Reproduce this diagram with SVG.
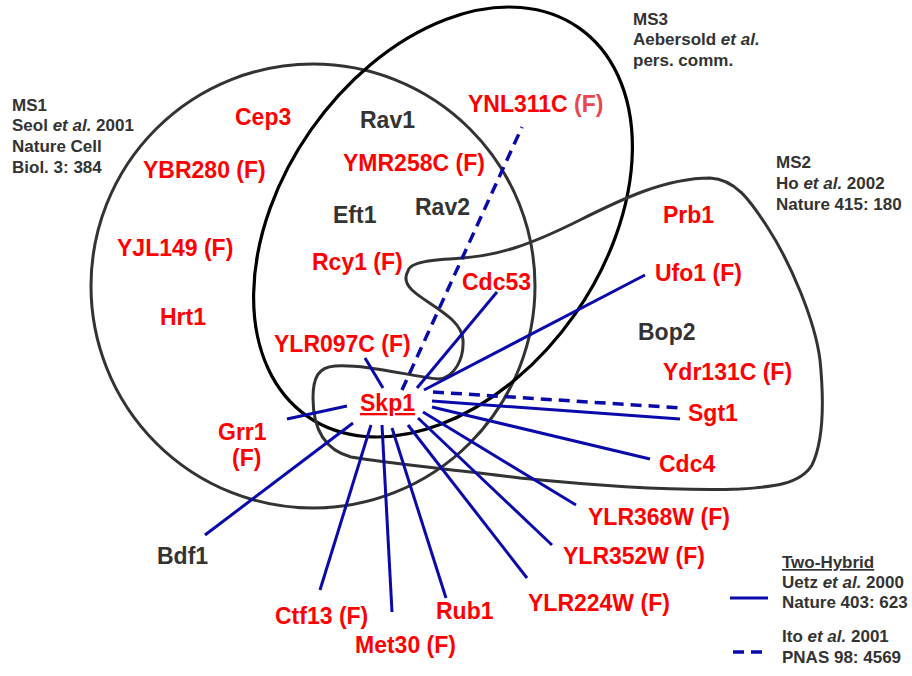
<svg xmlns="http://www.w3.org/2000/svg" width="912" height="676" viewBox="0 0 912 676">
<style>
.g{font-family:"Liberation Sans",Arial,sans-serif;font-weight:bold;font-size:23px;fill:#ff0000}
.k{font-family:"Liberation Sans",Arial,sans-serif;font-weight:bold;font-size:23px;fill:#333333}
.s{font-family:"Liberation Sans",Arial,sans-serif;font-weight:bold;font-size:17px;fill:#333333}
.it{font-style:italic}
.c{stroke:#0a0aaa;stroke-width:3;fill:none}
.d{stroke:#0a0aaa;stroke-width:3.5;fill:none;stroke-dasharray:11 7}
.set{fill:none;stroke:#333333;stroke-width:3}
</style>
<rect width="912" height="676" fill="#ffffff"/>
<g id="sets">
<circle id="MS1" class="set" cx="313" cy="286" r="222"/>
<ellipse id="MS3" cx="443" cy="222" rx="237" ry="161" transform="rotate(-55 443 222)" fill="none" stroke="#000000" stroke-width="3.2"/>
<path id="MS2" class="set" d="M408,271 C410,262 430,260 463,258 C500,255 530,245 580,220 C620,200 665,178 710,178 C735,179 750,200 768,228 C790,262 815,320 820,360 C824,400 824,440 812,465 C800,485 770,487 740,489 C660,492 560,482 520,478 C460,470 390,464 351,457 C325,450 313,430 313,398 C313,378 318,367 335,366 C365,364 410,376 438,379 C455,378 464,358 463,340 C462,318 428,305 412,290 C405,283 405,276 408,271 Z"/>
</g>
<g id="connectors">
<line class="c" x1="365" y1="358" x2="383" y2="388"/>
<line class="d" x1="402" y1="390" x2="522" y2="127"/>
<line class="c" x1="417" y1="388" x2="497" y2="292"/>
<line class="c" x1="424" y1="390" x2="645" y2="275"/>
<line class="d" x1="433" y1="392" x2="682" y2="408"/>
<line class="c" x1="432" y1="401" x2="680" y2="419"/>
<line class="c" x1="432" y1="407" x2="650" y2="459"/>
<line class="c" x1="423" y1="412" x2="576" y2="505"/>
<line class="c" x1="418" y1="418" x2="552" y2="545"/>
<line class="c" x1="408" y1="425" x2="527" y2="578"/>
<line class="c" x1="392" y1="428" x2="446" y2="598"/>
<line class="c" x1="382" y1="425" x2="392" y2="612"/>
<line class="c" x1="371" y1="425" x2="320" y2="590"/>
<line class="c" x1="353" y1="423" x2="205" y2="535"/>
<line class="c" x1="287" y1="419" x2="347" y2="406"/>
</g>
<g id="skp1"><text class="g" x="360" y="411" text-decoration="underline">Skp1</text></g>
<g id="cep3"><text class="g" x="235" y="125">Cep3</text></g>
<g id="rav1"><text class="k" x="360" y="128">Rav1</text></g>
<g id="ynl311c"><text class="g" x="468" y="112">YNL311C <tspan fill="#e8484e">(F)</tspan></text></g>
<g id="ybr280"><text class="g" x="143" y="178">YBR280 (F)</text></g>
<g id="ymr258c"><text class="g" x="343" y="171">YMR258C (F)</text></g>
<g id="eft1"><text class="k" x="333" y="223">Eft1</text></g>
<g id="rav2"><text class="k" x="415" y="215">Rav2</text></g>
<g id="yjl149"><text class="g" x="117" y="256">YJL149 (F)</text></g>
<g id="prb1"><text class="g" x="663" y="223">Prb1</text></g>
<g id="rcy1"><text class="g" x="312" y="270">Rcy1 (F)</text></g>
<g id="ufo1"><text class="g" x="655" y="281">Ufo1 (F)</text></g>
<g id="cdc53"><text class="g" x="462" y="290">Cdc53</text></g>
<g id="hrt1"><text class="g" x="160" y="325">Hrt1</text></g>
<g id="bop2"><text class="k" x="638" y="340">Bop2</text></g>
<g id="ylr097c"><text class="g" x="274" y="352">YLR097C (F)</text></g>
<g id="ydr131c"><text class="g" x="663" y="380">Ydr131C (F)</text></g>
<g id="sgt1"><text class="g" x="688" y="421">Sgt1</text></g>
<g id="grr1"><text class="g" x="218" y="440">Grr1</text><text class="g" x="232" y="466">(F)</text></g>
<g id="cdc4"><text class="g" x="659" y="472">Cdc4</text></g>
<g id="ylr368w"><text class="g" x="588" y="525">YLR368W (F)</text></g>
<g id="ylr352w"><text class="g" x="563" y="564">YLR352W (F)</text></g>
<g id="bdf1"><text class="k" x="157" y="564">Bdf1</text></g>
<g id="ylr224w"><text class="g" x="528" y="611">YLR224W (F)</text></g>
<g id="rub1"><text class="g" x="436" y="619">Rub1</text></g>
<g id="ctf13"><text class="g" x="275" y="624">Ctf13 (F)</text></g>
<g id="met30"><text class="g" x="355" y="653">Met30 (F)</text></g>
<g id="ms1-label">
<text class="s" x="12" y="111">MS1</text>
<text class="s" x="12" y="131">Seol <tspan class="it">et al.</tspan> 2001</text>
<text class="s" x="12" y="152">Nature Cell</text>
<text class="s" x="12" y="173">Biol. 3: 384</text>
</g>
<g id="ms3-label">
<text class="s" x="633" y="25">MS3</text>
<text class="s" x="633" y="45">Aebersold <tspan class="it">et al.</tspan></text>
<text class="s" x="633" y="66">pers. comm.</text>
</g>
<g id="ms2-label">
<text class="s" x="776" y="168">MS2</text>
<text class="s" x="776" y="189">Ho <tspan class="it">et al.</tspan> 2002</text>
<text class="s" x="776" y="210">Nature 415: 180</text>
</g>
<g id="legend">
<line class="c" x1="730" y1="598" x2="768" y2="598"/>
<line class="d" x1="733" y1="652" x2="768" y2="652" stroke-dasharray="10 6"/>
<text class="s" x="782" y="568" text-decoration="underline">Two-Hybrid</text>
<text class="s" x="782" y="588">Uetz <tspan class="it">et al.</tspan> 2000</text>
<text class="s" x="782" y="608">Nature 403: 623</text>
<text class="s" x="782" y="642">Ito <tspan class="it">et al.</tspan> 2001</text>
<text class="s" x="782" y="663">PNAS 98: 4569</text>
</g>
</svg>
